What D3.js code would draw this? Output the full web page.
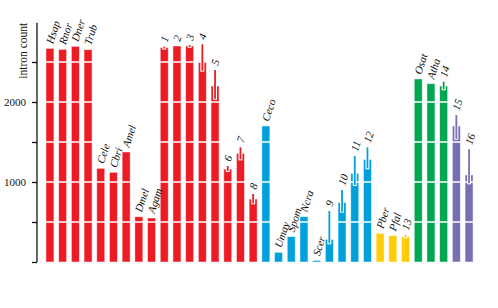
<!DOCTYPE html>
<html>
<head>
<meta charset="UTF-8">
<script src="https://d3js.org/d3.v7.min.js"></script>
<style>
  body { margin: 0; background: #fff; }
  svg text { font-family: "Liberation Serif", "DejaVu Serif", serif; }
</style>
</head>
<body>
<svg id="chart" width="498" height="308"></svg>
<script>
// species / sample labels, left to right
const names = ["Hsap","Rnor","Dner","Trub","Cele","Cbri","Amel","Dmel","Agam",
  "1","2","3","4","5","6","7","8",
  "Ceco","Umay","Spom","Ncra","Scer","9","10","11","12",
  "Pber","Pfal","13",
  "Osat","Atha","14",
  "15","16"];
const counts = [2670,2658,2696,2654,1171,1121,1375,566,550,
  2679,2700,2700,2512,2200,1162,1358,787,
  1700,121,317,567,20,283,742,1108,1283,
  358,329,317,
  2288,2229,2200,
  1700,1088];
// error ranges (low, high), null where no error bar
const errLow = [null,null,null,null,null,null,null,null,null,
  2668,null,2690,2391,2041,1137,1283,733,
  null,null,null,null,null,233,629,963,1171,
  null,null,308,
  null,null,2158,
  1540,983];
const errHigh = [null,null,null,null,null,null,null,null,null,
  2690,null,2712,2721,2400,1200,1433,850,
  null,null,null,null,null,637,900,1325,1433,
  null,null,342,
  null,null,2254,
  1838,1408];
const groups = ["animal","animal","animal","animal","animal","animal","animal","animal","animal",
  "animal","animal","animal","animal","animal","animal","animal","animal",
  "fungi","fungi","fungi","fungi","fungi","fungi","fungi","fungi","fungi",
  "plasmo","plasmo","plasmo",
  "plant","plant","plant",
  "other","other"];
const groupNames = ["animal","fungi","plasmo","plant","other"];
const groupColors = ["#ed1c24","#00a0dc","#ffcc05","#00a651","#7670b3"];
const yTicks = [0,500,1000,1500,2000,2500];
const yLabels = {1000: "1000", 2000: "2000"};

const svg = d3.select("#chart");

const x = d3.scaleBand()
  .domain(names)
  .range([43.6, 475.4])
  .paddingInner(0.37)
  .paddingOuter(0.185);

const y = d3.scaleLinear()
  .domain([0, 3000])
  .range([262, 22]);

const color = d3.scaleOrdinal().domain(groupNames).range(groupColors);

const data = names.map((n, i) => ({
  name: n, value: counts[i], lo: errLow[i], hi: errHigh[i], group: groups[i]
}));

// bars
svg.append("g").selectAll("rect")
  .data(data)
  .join("rect")
  .attr("x", d => x(d.name))
  .attr("y", d => y(d.value))
  .attr("width", x.bandwidth())
  .attr("height", d => y(0) - y(d.value))
  .attr("fill", d => color(d.group))
  .attr("stroke", "#fff")
  .attr("stroke-opacity", 0.6)
  .attr("stroke-width", 0.8);

// white grid lines over the bars
svg.append("g").selectAll("line")
  .data(yTicks.filter(t => t > 0))
  .join("line")
  .attr("x1", 40).attr("x2", 480)
  .attr("y1", d => y(d)).attr("y2", d => y(d))
  .attr("stroke", "#fff")
  .attr("stroke-width", 1.6);

// error bars: white halo then coloured line
const errs = data.filter(d => d.lo != null);
const eg = svg.append("g");
eg.selectAll("line.halo")
  .data(errs)
  .join("line")
  .attr("class", "halo")
  .attr("x1", d => x(d.name) + x.bandwidth() / 2)
  .attr("x2", d => x(d.name) + x.bandwidth() / 2)
  .attr("y1", d => y(d.lo) + 1)
  .attr("y2", d => y(d.hi))
  .attr("stroke", "#fff")
  .attr("stroke-width", 4);
eg.selectAll("line.err")
  .data(errs)
  .join("line")
  .attr("class", "err")
  .attr("x1", d => x(d.name) + x.bandwidth() / 2)
  .attr("x2", d => x(d.name) + x.bandwidth() / 2)
  .attr("y1", d => y(d.lo))
  .attr("y2", d => y(d.hi))
  .attr("stroke", d => color(d.group))
  .attr("stroke-width", 1.8);

// rotated labels
svg.append("g").selectAll("text")
  .data(data)
  .join("text")
  .attr("transform", d => {
    const top = d.hi != null ? Math.max(d.hi, d.value) : d.value;
    return `translate(${x(d.name) + x.bandwidth() / 2 + 3},${y(top) - 4}) rotate(-72)`;
  })
  .attr("font-size", 11)
  .attr("font-style", "italic")
  .attr("fill", "#111")
  .text(d => d.name);

// y axis
const axis = d3.axisLeft(y)
  .tickValues(yTicks)
  .tickSize(5)
  .tickFormat(d => yLabels[d] || "");
const ag = svg.append("g")
  .attr("transform", "translate(37,0)")
  .call(axis);
ag.select(".domain").attr("d", `M0,${y(0)}V${y(2990)}`).attr("stroke", "#111").attr("stroke-width", 1.3);
ag.selectAll(".tick line").attr("stroke", "#111").attr("stroke-width", 1.3);
ag.selectAll(".tick text")
  .attr("font-family", "Liberation Serif, serif")
  .attr("font-size", 11)
  .attr("fill", "#111")
  .attr("x", -11);

svg.append("text")
  .attr("transform", `translate(27,${y(2990)}) rotate(-90)`)
  .attr("text-anchor", "end")
  .attr("font-size", 11.5)
  .attr("fill", "#111")
  .text("intron count");
</script>
</body>
</html>
